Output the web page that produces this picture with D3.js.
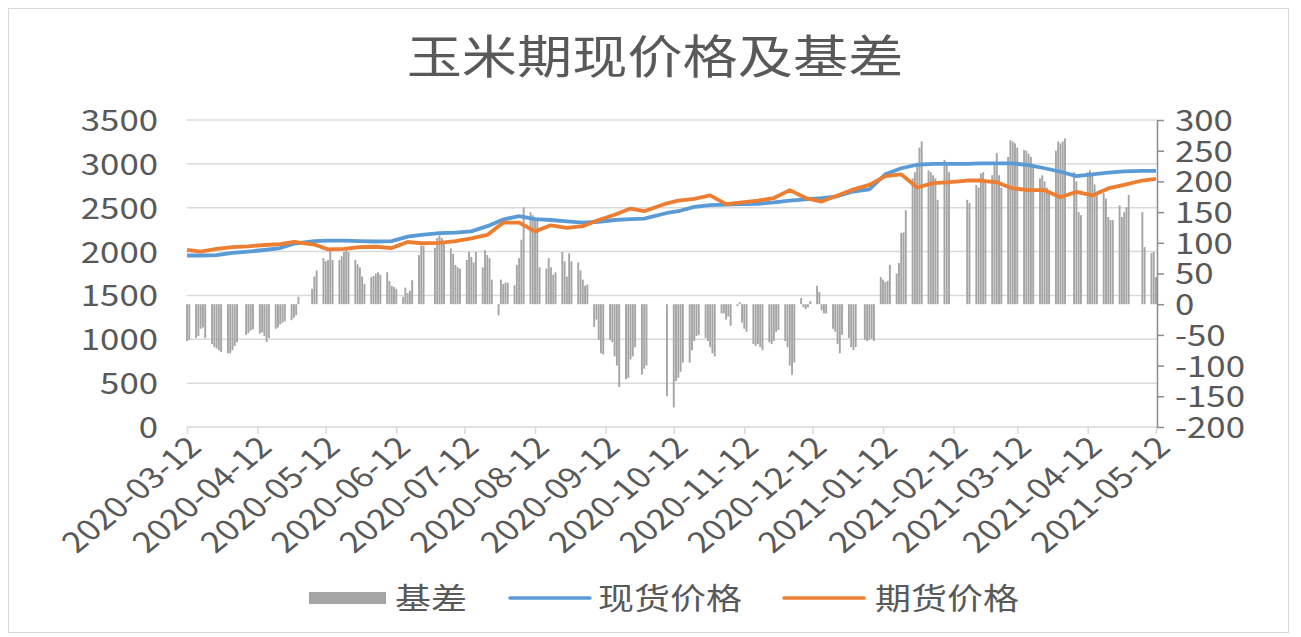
<!DOCTYPE html>
<meta charset="utf-8">
<style>
body { margin: 0; background: #fff; }
text { font-family: "Noto Sans CJK SC", sans-serif; fill: #595959; }
.grid line { stroke: #d9d9d9; stroke-width: 1.5px; }
.x.axis path, .x.axis line { stroke: #d9d9d9; stroke-width: 1.5px; }
.y2.axis path, .y2.axis line { stroke: #8c8c8c; stroke-width: 1.5px; }
.line { fill: none; stroke-width: 3.8px; stroke-linejoin: round; }
</style>
<div id="chart"></div>
<script src="https://d3js.org/d3.v7.min.js"></script>
<script>

// weekly blocks, Monday first; basis is Mon..Fri, null = no trading
var weekStarts = ["2020-03-09","2020-03-16","2020-03-23","2020-03-30","2020-04-06","2020-04-13","2020-04-20","2020-04-27",
  "2020-05-04","2020-05-11","2020-05-18","2020-05-25","2020-06-01","2020-06-08","2020-06-15","2020-06-22","2020-06-29",
  "2020-07-06","2020-07-13","2020-07-20","2020-07-27","2020-08-03","2020-08-10","2020-08-17","2020-08-24","2020-08-31",
  "2020-09-07","2020-09-14","2020-09-21","2020-09-28","2020-10-05","2020-10-12","2020-10-19","2020-10-26","2020-11-02",
  "2020-11-09","2020-11-16","2020-11-23","2020-11-30","2020-12-07","2020-12-14","2020-12-21","2020-12-28","2021-01-04",
  "2021-01-11","2021-01-18","2021-01-25","2021-02-01","2021-02-08","2021-02-15","2021-02-22","2021-03-01","2021-03-08",
  "2021-03-15","2021-03-22","2021-03-29","2021-04-05","2021-04-12","2021-04-19","2021-04-26","2021-05-03","2021-05-10"];

var basis = [
  [null,null,null,-60,-58], [-55,-52,-40,-38,-55], [-65,-70,-72,-75,-78], [-80,-80,-75,-68,-62],
  [null,-50,-47,-43,-41], [-48,-46,-52,-62,-55], [-40,-38,-33,-30,-28], [-26,-22,-18,12,null],
  [null,null,25,45,55], [75,70,72,88,72], [72,78,85,88,85], [72,65,60,45,33],
  [44,46,50,52,48], [52,38,30,28,25], [12,27,18,22,39], [80,95,95,null,null],
  [92,108,112,108,100], [91,82,64,60,58], [72,85,77,68,85], [60,88,80,75,40],
  [-18,40,33,35,35], [31,64,75,105,158], [150,145,140,138,60], [58,75,60,48,52],
  [85,70,45,83,70], [68,55,40,30,32], [-37,-25,-58,-80,-82], [-58,-62,-85,-100,-135],
  [-122,-120,-90,-85,-70], [-115,-105,-100,null,null], [null,null,null,null,-150], [-168,-125,-120,-110,-95],
  [-95,-75,-60,-52,-50], [-55,-60,-70,-80,-85], [-15,-15,-25,-20,-35], [-3,3,-30,-40,-45],
  [-65,-68,-65,-70,-75], [-62,-65,-60,-45,-42], [-60,-70,-100,-115,-95], [10,-5,-8,-5,5],
  [30,20,-10,-15,-15], [-40,-45,-65,-80,-50], [-55,-70,-75,-70,null], [-58,-60,-58,-56,-60],
  [44,40,36,38,64], [50,67,116,117,153], [205,215,230,255,265], [218,215,210,205,170],
  [235,227,215,null,null], [null,null,null,170,165], [194,190,213,215,200], [210,230,246,210,190],
  [240,267,265,262,255], [251,250,245,240,226], [205,210,200,190,180], [250,265,262,265,270],
  [null,215,200,150,145], [215,218,210,195,180], [181,172,142,137,137], [161,142,150,158,178],
  [null,null,null,150,93], [83,85,44,null,null]
];

// one reading per week
var spot = [1955,1955,1960,1985,2000,2018,2040,2090,2120,2125,2125,2118,2115,2120,2170,2190,2210,
  2215,2230,2290,2365,2405,2370,2360,2345,2330,2340,2360,2370,2375,2440,2460,2510,2530,2535,
  2540,2545,2560,2580,2595,2610,2630,2680,2710,2880,2950,2990,3000,3000,3000,3005,3005,3005,
  2985,2950,2910,2860,2880,2900,2915,2920,2920];
var futures = [2020,2000,2030,2050,2060,2075,2085,2110,2080,2025,2030,2050,2055,2040,2110,2095,2100,
  2120,2150,2190,2330,2330,2230,2300,2270,2290,2360,2420,2490,2460,2550,2580,2600,2640,2540,
  2560,2580,2610,2700,2610,2570,2640,2700,2760,2860,2880,2730,2780,2790,2810,2810,2790,2720,
  2700,2700,2620,2680,2640,2720,2760,2810,2830];

var leftTicks = [0,500,1000,1500,2000,2500,3000,3500];
var rightTicks = [-200,-150,-100,-50,0,50,100,150,200,250,300];
var xTickLabels = ["2020-03-12","2020-04-12","2020-05-12","2020-06-12","2020-07-12","2020-08-12","2020-09-12",
  "2020-10-12","2020-11-12","2020-12-12","2021-01-12","2021-02-12","2021-03-12","2021-04-12","2021-05-12"];

var width = 1301, height = 637;
var stretch = 1.2; // the picture is drawn a little wide, text too

var parse = d3.timeParse("%Y-%m-%d");
var x = d3.scaleTime().domain([parse("2020-03-12"), parse("2021-05-12")]).range([187, 1156]);
var yL = d3.scaleLinear().domain([0, 3500]).range([427, 120]);
var yR = d3.scaleLinear().domain([-200, 300]).range([427, 120]);
var plain = function(d) { return String(d); };

// flatten weeks into trading days
var days = [], linePts = [];
weekStarts.forEach(function(w, i) {
  var mon = parse(w), traded = [];
  basis[i].forEach(function(v, k) {
    if (v === null) return;
    var d = d3.timeDay.offset(mon, k);
    days.push({date: d, value: v});
    traded.push(d);
  });
  var pick = traded[Math.floor((traded.length - 1) / 2)];
  if (i === 0) pick = traded[0];
  if (i === weekStarts.length - 1) pick = traded[traded.length - 1];
  linePts.push({date: pick, spot: spot[i], futures: futures[i]});
});

var svg = d3.select("#chart").append("svg")
  .attr("width", width)
  .attr("height", height);

svg.append("rect")
  .attr("x", 8.5).attr("y", 8.5)
  .attr("width", 1280).attr("height", 624)
  .attr("fill", "#fff")
  .attr("stroke", "#d9d9d9");

// title
svg.append("text")
  .attr("transform", "translate(655,73) scale(" + stretch + ",1)")
  .attr("text-anchor", "middle")
  .style("font-size", "46px")
  .text("玉米期现价格及基差");

// gridlines
svg.append("g")
  .attr("class", "grid")
  .selectAll("line")
  .data(leftTicks.filter(function(d) { return d > 0; }))
  .enter().append("line")
  .attr("x1", 187).attr("x2", 1157)
  .attr("y1", function(d) { return yL(d); })
  .attr("y2", function(d) { return yL(d); });

// left axis labels
var yAxisL = svg.append("g")
  .attr("class", "y axis")
  .attr("transform", "translate(187,0)")
  .call(d3.axisLeft(yL).tickValues(leftTicks).tickFormat(plain).tickSize(0).tickPadding(0));
yAxisL.select(".domain").remove();
yAxisL.selectAll("text")
  .attr("x", null).attr("dy", "0.36em")
  .attr("transform", "translate(-29,0) scale(" + stretch + ",1)")
  .style("font-size", "29px")
  .style("font-family", null);

// x axis
var xAxis = svg.append("g")
  .attr("class", "x axis")
  .attr("transform", "translate(0,427)")
  .call(d3.axisBottom(x).tickValues(xTickLabels.map(parse)).tickSizeOuter(0).tickSize(7)
    .tickFormat(d3.timeFormat("%Y-%m-%d")));
xAxis.select(".domain").attr("d", "M187,0H1157");
xAxis.selectAll("text")
  .attr("y", null).attr("dy", "0.35em")
  .attr("text-anchor", "end")
  .attr("transform", "translate(7,15) scale(" + stretch + ",1) rotate(-45)")
  .style("font-size", "29px")
  .style("font-family", null);

// basis bars on the right axis
var barW = 1.9;
svg.append("g")
  .selectAll("rect")
  .data(days)
  .enter().append("rect")
  .attr("x", function(d) { return x(d.date) - barW / 2; })
  .attr("width", barW)
  .attr("y", function(d) { return yR(Math.max(0, d.value)); })
  .attr("height", function(d) { return Math.abs(yR(d.value) - yR(0)); })
  .attr("fill", "#a5a5a5");

// right axis
var yAxisR = svg.append("g")
  .attr("class", "y2 axis")
  .attr("transform", "translate(1157,0)")
  .call(d3.axisRight(yR).tickValues(rightTicks).tickFormat(plain).tickSize(7).tickSizeOuter(0).tickPadding(0));
yAxisR.selectAll("text")
  .attr("x", null).attr("dy", "0.36em")
  .attr("transform", "translate(18,0) scale(" + stretch + ",1)")
  .style("font-size", "29px")
  .style("font-family", null);

// price lines
var spotLine = d3.line()
  .x(function(d) { return x(d.date); })
  .y(function(d) { return yL(d.spot); });
var futLine = d3.line()
  .x(function(d) { return x(d.date); })
  .y(function(d) { return yL(d.futures); });

svg.append("path").datum(linePts)
  .attr("class", "line")
  .style("stroke", "#5b9bd5")
  .attr("d", spotLine);
svg.append("path").datum(linePts)
  .attr("class", "line")
  .style("stroke", "#ed7d31")
  .attr("d", futLine);

// legend
var legend = svg.append("g");
legend.append("rect")
  .attr("x", 309).attr("y", 592)
  .attr("width", 77).attr("height", 12)
  .attr("fill", "#a5a5a5");
legend.append("line")
  .attr("x1", 510).attr("x2", 590).attr("y1", 598).attr("y2", 598)
  .attr("stroke", "#5b9bd5").attr("stroke-width", 3.5).attr("stroke-linecap", "round");
legend.append("line")
  .attr("x1", 784).attr("x2", 864).attr("y1", 598).attr("y2", 598)
  .attr("stroke", "#ed7d31").attr("stroke-width", 3.5).attr("stroke-linecap", "round");
[["基差", 395], ["现货价格", 598], ["期货价格", 875]].forEach(function(l) {
  legend.append("text")
    .attr("transform", "translate(" + l[1] + ",598) scale(" + stretch + ",1)")
    .attr("dy", "0.36em")
    .style("font-size", "30px")
    .text(l[0]);
});

</script>
